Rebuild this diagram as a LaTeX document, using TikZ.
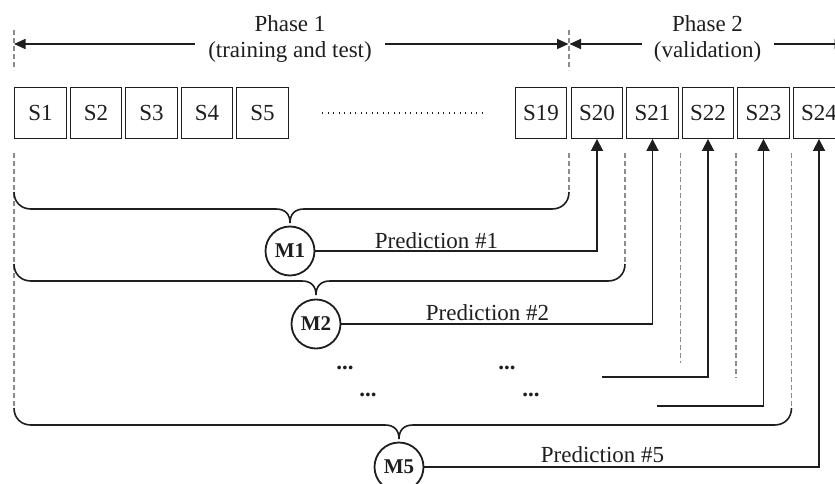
\documentclass[tikz,border=0pt]{standalone}
\usepackage{fontspec}
\setmainfont{Liberation Serif}
\usetikzlibrary{arrows.meta}
\definecolor{lc}{HTML}{1E1E1E}
\definecolor{dc}{HTML}{8C8C8C}
\newcommand\mybrace[4]{%
\draw[brc] (#1,#4-17) .. controls (#1,#4-7) and (#1+7,#4) .. (#1+17,#4) -- (#2-14,#4) .. controls (#2-5,#4) and (#2,#4+5) .. (#2,#4+14) .. controls (#2,#4+5) and (#2+5,#4) .. (#2+14,#4) -- (#3-17,#4) .. controls (#3-7,#4) and (#3,#4-7) .. (#3,#4-17);}
\begin{document}
\begin{tikzpicture}[x=1pt,y=-1pt,
  txt/.style={font=\fontsize{23}{27}\selectfont, inner sep=0pt, text=lc},
  sbox/.style={draw=lc, line width=1.4pt, minimum width=51.5pt, minimum height=50.5pt, inner sep=0pt, font=\fontsize{23}{27}\selectfont, text=lc},
  mcirc/.style={circle, draw=lc, line width=1.8pt, minimum size=49pt, inner sep=0pt, font=\fontsize{21}{25}\selectfont\bfseries, text=lc},
  conn/.style={draw=lc, line width=1.8pt, -{Triangle[length=12pt,width=12pt]}},
  plain/.style={draw=lc, line width=1.8pt},
  tarr/.style={draw=lc, line width=1.6pt, -{Triangle[length=11.5pt,width=10pt]}},
  brc/.style={draw=lc, line width=1.6pt},
  dsh/.style={draw=dc, line width=1.2pt, dash pattern=on 5pt off 3pt},
  dotl/.style={draw=lc, line width=1.2pt, dash pattern=on 1.2pt off 4.3pt},
  ell/.style={font=\fontsize{23}{27}\selectfont\bfseries, inner sep=0pt, anchor=base, text=lc}]
\useasboundingbox (0,0) rectangle (835,484);
\clip (0,0) rectangle (835,484);

% top phase labels
\node[txt, anchor=base] (p1a) at (290,32) {Phase 1};
\node[txt, anchor=base] (p1b) at (290,58) {(training and test)};
\node[txt, anchor=base] (p2a) at (707.5,32) {Phase 2};
\node[txt, anchor=base] (p2b) at (707.5,58) {(validation)};
\coordinate (a0) at (14,44);
\coordinate (a1) at (195,44);
\coordinate (a2) at (385,44);
\coordinate (a3) at (568.5,44);
\coordinate (b0) at (569.5,44);
\coordinate (b1) at (642,44);
\coordinate (b2) at (774,44);
\coordinate (b3) at (846,44);
\draw[tarr] (a1) -- (a0);
\draw[tarr] (a2) -- (a3);
\draw[tarr] (b1) -- (b0);
\draw[tarr] (b2) -- (b3);

% top dashed ticks
\coordinate (t1a) at (14,30); \coordinate (t1b) at (14,70);
\coordinate (t2a) at (569,30); \coordinate (t2b) at (569,70);
\draw[dsh] (t1a) -- (t1b);
\draw[dsh] (t2a) -- (t2b);

% boxes
\node[sbox] (s1) at (40.5,113) {S1};
\node[sbox] (s2) at (96,113) {S2};
\node[sbox] (s3) at (151.5,113) {S3};
\node[sbox] (s4) at (207,113) {S4};
\node[sbox] (s5) at (262.5,113) {S5};
\node[sbox] (s19) at (541,113) {S19};
\node[sbox] (s20) at (597,113) {S20};
\node[sbox] (s21) at (652.5,113) {S21};
\node[sbox] (s22) at (708,113) {S22};
\node[sbox] (s23) at (763.5,113) {S23};
\node[sbox] (s24) at (819,113) {S24};
\coordinate (d1) at (322,113);
\coordinate (d2) at (483,113);
\draw[dotl] (d1) -- (d2);

% dashed verticals below the boxes
\coordinate (v0a) at (14,153);    \coordinate (v0b) at (14,408);
\coordinate (v1a) at (569,153);   \coordinate (v1b) at (569,192);
\coordinate (v2a) at (625,153);   \coordinate (v2b) at (625,264);
\coordinate (v3a) at (680.5,153); \coordinate (v3b) at (680.5,363);
\coordinate (v4a) at (736,153);   \coordinate (v4b) at (736,378);
\coordinate (v5a) at (791.5,153); \coordinate (v5b) at (791.5,408);
\draw[dsh] (v0a) -- (v0b);
\draw[dsh] (v1a) -- (v1b);
\draw[dsh] (v2a) -- (v2b);
\draw[dsh] (v3a) -- (v3b);
\draw[dsh] (v4a) -- (v4b);
\draw[dsh] (v5a) -- (v5b);

% braces
\mybrace{14}{290}{569}{209}
\mybrace{14}{316}{625}{281}
\mybrace{14}{399}{791.5}{425}

% models
\node[mcirc] (m1) at (290,251) {M1};
\node[mcirc] (m2) at (316,324) {M2};
\node[mcirc] (m5) at (399,467) {M5};

% predictions
\draw[conn] (m1.east) -| (s20.south);
\draw[conn] (m2.east) -| (s21.south);
\coordinate (c3) at (602,377);
\coordinate (c4) at (657,406);
\draw[conn] (c3) -| (s22.south);
\draw[conn] (c4) -| (s23.south);
\draw[conn] (m5.east) -| (s24.south);
\node[txt, anchor=base] (pr1) at (436.5,248) {Prediction \#1};
\node[txt, anchor=base] (pr2) at (487.5,320) {Prediction \#2};
\node[txt, anchor=base] (pr5) at (602.5,462) {Prediction \#5};

% ellipses
\node[ell] (e1) at (345,369.5) {...};
\node[ell] (e2) at (507,369.5) {...};
\node[ell] (e3) at (368,396.5) {...};
\node[ell] (e4) at (531,396.5) {...};
\end{tikzpicture}
\end{document}
